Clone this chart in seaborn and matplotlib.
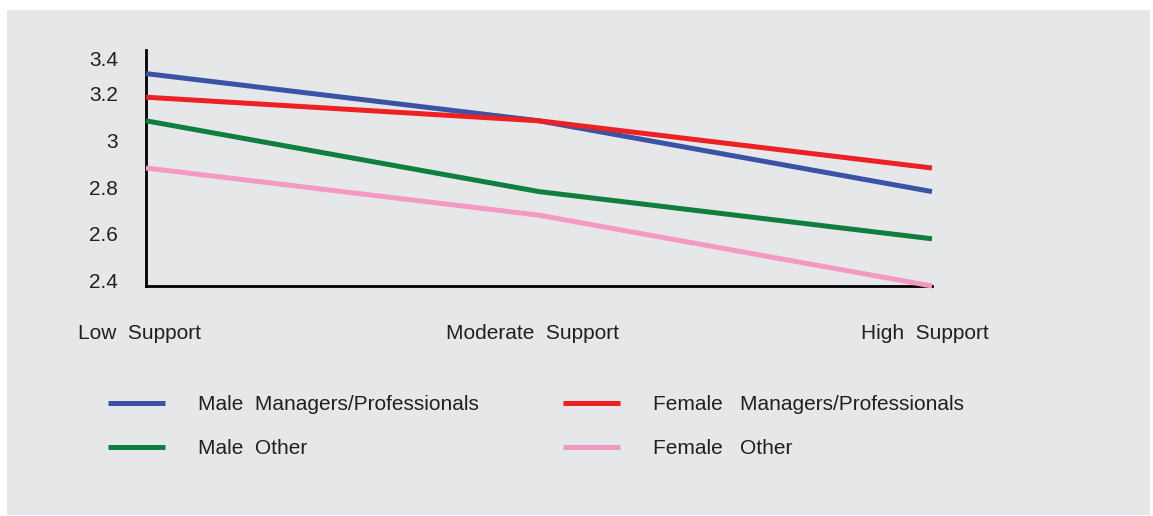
import matplotlib
matplotlib.use("Agg")
import matplotlib.pyplot as plt
import matplotlib.patches as mpatches
import matplotlib.transforms as mtrans
import seaborn as sns
import pandas as pd

categories = ["Low  Support", "Moderate  Support", "High  Support"]
male_mp = [3.3, 3.1, 2.8]
female_mp = [3.2, 3.1, 2.9]
male_other = [3.1, 2.8, 2.6]
female_other = [2.9, 2.7, 2.4]
series_names = ["Male  Managers/Professionals", "Male  Other",
                "Female   Managers/Professionals", "Female   Other"]
yticks = [2.4, 2.6, 2.8, 3.0, 3.2, 3.4]
ytick_labels = ["2.4", "2.6", "2.8", "3", "3.2", "3.4"]

colors = {
    series_names[0]: "#3a53a4",
    series_names[1]: "#0e7f3e",
    series_names[2]: "#ed2024",
    series_names[3]: "#f39ac2",
}

rows = []
for name, vals in zip(series_names, [male_mp, male_other, female_mp, female_other]):
    for c, v in zip(categories, vals):
        rows.append({"cat": c, "val": v, "series": name})
df = pd.DataFrame(rows)

sns.set_style("white")
plt.rcParams["font.family"] = ["Liberation Sans", "DejaVu Sans"]
FS = 15
TXT = "#231f20"

fig = plt.figure(figsize=(11.53, 5.16), dpi=100)
fig.patch.set_facecolor("white")
W, H = 1153, 516
bg = mpatches.Rectangle((7 / W, 1 - 515 / H), (1150 - 7) / W, (515 - 10) / H,
                        transform=fig.transFigure, facecolor="#e6e7e8",
                        edgecolor="none", zorder=-10)
fig.patches.append(bg)

ax = fig.add_axes([146 / W, 1 - 286 / H, (932 - 146) / W, (286 - 50) / H])
ax.set_facecolor("none")

sns.lineplot(data=df, x="cat", y="val", hue="series", hue_order=series_names,
             palette=colors, linewidth=3.6, ax=ax, legend=False, sort=False)
for ln in ax.lines:
    ln.set_clip_on(False)
    ln.set_solid_capstyle("butt")
    ln.set_zorder(3)

ax.set_xlim(0, 2)
ax.set_ylim(2.4, 3.4)
ax.set_yticks(yticks)
ax.set_yticklabels(ytick_labels)
ax.set_xticks([0, 1, 2])
ax.set_xticklabels(categories)
ax.set_xlabel("")
ax.set_ylabel("")
ax.tick_params(axis="both", length=0, labelsize=FS, colors=TXT)
ax.tick_params(axis="y", pad=20)
ax.tick_params(axis="x", pad=27.5)

dpi = fig.dpi
for lab in ax.get_xticklabels():
    lab.set_horizontalalignment("center")
    lab.set_transform(lab.get_transform() +
                      mtrans.ScaledTranslation(-7 / dpi, 0, fig.dpi_scale_trans))
# small vertical nudges of the y labels as in the reference
y_nudge = {"3.4": -8, "3.2": 4, "3": 4, "2.8": 4, "2.6": 5, "2.4": 5}
for lab, txt in zip(ax.get_yticklabels(), ytick_labels):
    lab.set_transform(lab.get_transform() +
                      mtrans.ScaledTranslation(0, y_nudge[txt] / dpi, fig.dpi_scale_trans))

for s in ["top", "right"]:
    ax.spines[s].set_visible(False)
for s in ["left", "bottom"]:
    ax.spines[s].set_color("black")
    ax.spines[s].set_linewidth(2)
    ax.spines[s].set_zorder(2)

px_per_fs = FS * dpi / 72.0
handles = {n: plt.Line2D([], [], color=colors[n], linewidth=3.6, solid_capstyle="butt")
           for n in series_names}
legend_kw = dict(loc="upper left", ncol=1, frameon=False, fontsize=FS,
                 handlelength=57 / px_per_fs, handletextpad=33 / px_per_fs,
                 labelspacing=1.2, borderpad=0, borderaxespad=0)
for col_names, x0 in [(series_names[:2], 108), (series_names[2:], 563)]:
    leg = fig.legend([handles[n] for n in col_names], col_names,
                     bbox_to_anchor=(x0 / W, 1 - 395 / H), **legend_kw)
    for t in leg.get_texts():
        t.set_color(TXT)

fig.savefig("out.png", dpi=100, facecolor="white")
